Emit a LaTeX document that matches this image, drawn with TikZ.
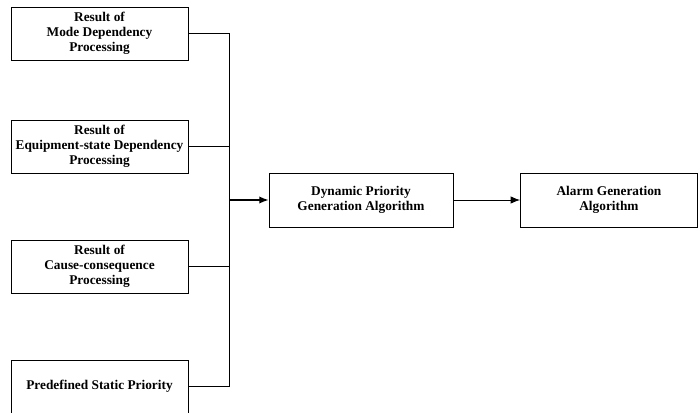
\documentclass[tikz,border=0pt]{standalone}
\usepackage{fontspec}
\setmainfont{Liberation Serif}
\usetikzlibrary{positioning,arrows.meta}

\begin{document}
\begin{tikzpicture}[x=0.75pt, y=-0.75pt, >={Latex[length=7pt,width=5.5pt]},
    every node/.style={font=\fontsize{10}{11.25}\selectfont\bfseries},
    procbox/.style={draw, line width=0.6pt, align=center, minimum width=132.75pt, minimum height=39.75pt, inner sep=1pt}]
      \useasboundingbox (0,0) rectangle (700,413);
      % input results on the left
      \node[procbox] (mode) at (99.5,33.5) {Result of\\Mode Dependency\\Processing};
      \node[procbox] (equip) at (99.5,146.5) {Result of\\Equipment-state Dependency\\Processing};
      \node[procbox] (cause) at (99.5,266.5) {Result of\\Cause-consequence\\Processing};
      \node[procbox] (static) at (99.5,386.5) {Predefined Static Priority};

      % algorithms
      \node[procbox, minimum width=138pt, minimum height=40.5pt] (dyn) at (361,200) {Dynamic Priority\\Generation Algorithm};
      \node[procbox, minimum height=40.5pt, right=50pt of dyn] (alarm) {Alarm Generation\\Algorithm};

      \coordinate (bus) at (229,200);
      \draw[line width=0.6pt] (mode.east) -| (bus);
      \draw[line width=0.6pt] (static.east) -| (bus);
      \draw[line width=0.6pt] (equip.east) -- (equip.east -| bus);
      \draw[line width=0.6pt] (cause.east) -- (cause.east -| bus);
      \draw[->, line width=1pt] (bus) -- (dyn);
      \draw[->, line width=0.6pt] (dyn) -- (alarm);
    \end{tikzpicture}
\end{document}
